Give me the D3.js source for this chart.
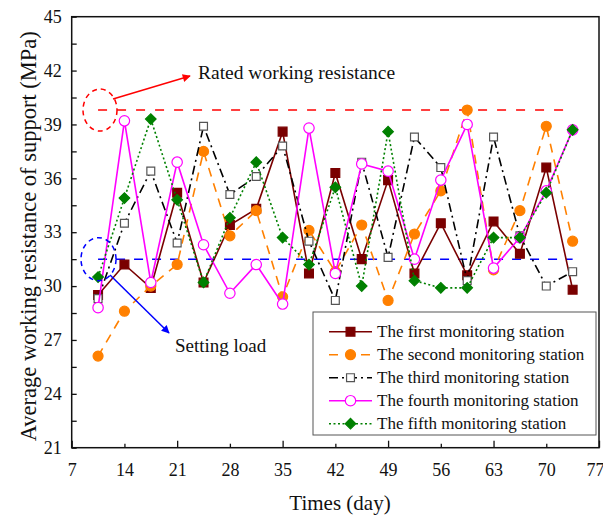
<!DOCTYPE html>
<html>
<head>
<meta charset="utf-8">
<script src="https://cdn.jsdelivr.net/npm/d3@7"></script>
<style>
  body { margin: 0; background: #fff; }
  text { font-family: "Liberation Serif", "Times New Roman", serif; fill: #111; }
</style>
</head>
<body>
<div id="chart"></div>
<script>
// days when the stations were read
const days = [10.5, 14, 17.5, 21, 24.5, 28, 31.5, 35, 38.5, 42, 45.5, 49, 52.5, 56, 59.5, 63, 66.5, 70, 73.5];

// average working resistance (MPa) per station
const station1 = [29.5, 31.2, 29.9, 35.2, 30.2, 33.4, 34.3, 38.6, 30.7, 36.3, 31.5, 35.9, 30.7, 33.5, 30.6, 33.6, 31.8, 36.6, 29.8];
const station2 = [26.1, 28.6, 30.0, 31.2, 37.5, 32.8, 34.2, 29.4, 33.1, 30.8, 33.4, 29.2, 32.9, 35.3, 39.8, 30.9, 34.2, 38.9, 32.5];
const station3 = [29.3, 33.5, 36.4, 32.4, 38.9, 35.1, 36.1, 37.8, 32.5, 29.2, 36.9, 31.6, 38.3, 36.6, 30.3, 38.3, 32.8, 30.0, 30.8];
const station4 = [28.8, 39.2, 30.2, 36.9, 32.3, 29.6, 31.2, 29.0, 38.8, 30.7, 36.8, 36.4, 31.5, 35.9, 39.0, 31.0, 32.7, 35.3, 38.7];
const station5 = [30.5, 34.9, 39.3, 34.8, 30.2, 33.8, 36.9, 32.7, 31.2, 35.5, 30.0, 38.6, 30.3, 29.9, 29.9, 32.7, 32.7, 35.2, 38.7];

const stationNames = [
  "The first monitoring station",
  "The second monitoring station",
  "The third monitoring station",
  "The fourth monitoring station",
  "The fifth monitoring station"
];

const ratedResistance = 39.8;
const settingLoad = 31.5;

const xTicks = [7, 14, 21, 28, 35, 42, 49, 56, 63, 70, 77];
const yTicks = [21, 24, 27, 30, 33, 36, 39, 42, 45];

// look of each series
const styles = [
  { color: "#7a0000", dash: null, width: 1.6, marker: "square", fill: "#7a0000", stroke: "#7a0000", size: 78 },
  { color: "#ff8000", dash: "9,7", width: 1.6, marker: "circle", fill: "#ff8000", stroke: "#ff8000", size: 5 },
  { color: "#000", dash: "9,4,2,4", width: 1.6, marker: "square", fill: "#fff", stroke: "#555", size: 62 },
  { color: "#ff00ff", dash: null, width: 1.6, marker: "circle", fill: "#fff", stroke: "#ff00ff", size: 5.2 },
  { color: "#008000", dash: "2,2.5", width: 1.6, marker: "diamond", fill: "#008000", stroke: "#008000", size: 56 }
];

const series = [station1, station2, station3, station4, station5].map((vals, i) => ({
  name: stationNames[i],
  style: styles[i],
  points: days.map((d, j) => ({ day: d, value: vals[j] }))
}));

// SETUP CHART
const width = 603, height = 518;
const margin = { top: 16.7, right: 4, bottom: 70.3, left: 71.7 };
const graphWidth = width - margin.left - margin.right;
const graphHeight = height - margin.top - margin.bottom;

const svg = d3.select("#chart").append("svg")
  .attr("width", width)
  .attr("height", height);

const graph = svg.append("g")
  .attr("transform", `translate(${margin.left},${margin.top})`);

const x = d3.scaleLinear().domain([7, 77]).range([0, graphWidth]);
const y = d3.scaleLinear().domain([21, 45]).range([graphHeight, 0]);

// axes - ticks point inward
const xAxis = d3.axisBottom(x).tickValues(xTicks).tickSize(-4).tickPadding(16).tickFormat(d3.format("d"));
const yAxis = d3.axisLeft(y)
  .tickValues(d3.range(21, 45.1, 1.5))
  .tickSize(-5)
  .tickPadding(10)
  .tickFormat(d => yTicks.includes(d) ? d : "");

const xAxisGroup = graph.append("g").attr("transform", `translate(0,${graphHeight})`).call(xAxis);
const yAxisGroup = graph.append("g").call(yAxis);

xAxisGroup.selectAll(".tick line")
  .attr("y2", d => ((d - 7) % 14 === 0 ? -7 : -4));

[xAxisGroup, yAxisGroup].forEach(g => {
  g.select(".domain").remove();
  g.selectAll(".tick line").attr("stroke", "#111").attr("stroke-width", 1.3);
  g.selectAll("text").style("font-size", "18px").attr("fill", "#111");
});

// last label sits on the edge, pull it in a bit
xAxisGroup.selectAll(".tick text")
  .filter(d => d === 77)
  .attr("dx", -4);

// frame
graph.append("rect")
  .attr("width", graphWidth)
  .attr("height", graphHeight)
  .attr("fill", "none")
  .attr("stroke", "#111")
  .attr("stroke-width", 1.5);

// reference lines
graph.append("line")
  .attr("x1", x(days[0])).attr("x2", x(days[days.length - 1]))
  .attr("y1", y(ratedResistance)).attr("y2", y(ratedResistance))
  .attr("stroke", "#ff0000").attr("stroke-width", 1.5).attr("stroke-dasharray", "9,10");

graph.append("line")
  .attr("x1", x(days[0])).attr("x2", x(days[days.length - 1]))
  .attr("y1", y(settingLoad)).attr("y2", y(settingLoad))
  .attr("stroke", "#0000ff").attr("stroke-width", 1.5).attr("stroke-dasharray", "9,9");

const line = d3.line().x(d => x(d.day)).y(d => y(d.value));

const drawMarker = (sel, st) => {
  if (st.marker === "circle") {
    sel.append("circle").attr("r", st.size);
  } else if (st.marker === "square") {
    sel.append("path").attr("d", d3.symbol(d3.symbolSquare, st.size)());
  } else {
    sel.append("path").attr("d", d3.symbol(d3.symbolSquare, st.size)()).attr("transform", "rotate(45)");
  }
  sel.selectAll("circle, path")
    .attr("fill", st.fill)
    .attr("stroke", st.stroke)
    .attr("stroke-width", 1.2);
};

series.forEach(s => {
  const st = s.style;
  graph.append("path")
    .datum(s.points)
    .attr("d", line)
    .attr("fill", "none")
    .attr("stroke", st.color)
    .attr("stroke-width", st.width)
    .attr("stroke-dasharray", st.dash);

  graph.append("g").selectAll("g")
    .data(s.points)
    .enter()
    .append("g")
    .attr("transform", d => `translate(${x(d.day)},${y(d.value)})`)
    .each(function() { drawMarker(d3.select(this), st); });
});

// annotations
svg.append("defs").selectAll("marker")
  .data([["arrRed", "#ff0000"], ["arrBlue", "#0000ff"]])
  .enter().append("marker")
  .attr("id", d => d[0])
  .attr("viewBox", "0 0 10 10")
  .attr("refX", 9).attr("refY", 5)
  .attr("markerWidth", 11).attr("markerHeight", 8)
  .attr("markerUnits", "userSpaceOnUse")
  .attr("orient", "auto")
  .append("path")
  .attr("d", "M0,0L10,5L0,10Z")
  .attr("fill", d => d[1]);

svg.append("ellipse")
  .attr("cx", 100).attr("cy", y(ratedResistance) + margin.top)
  .attr("rx", 17).attr("ry", 21)
  .attr("fill", "none").attr("stroke", "#ff0000").attr("stroke-width", 1.5).attr("stroke-dasharray", "5,4");

svg.append("line")
  .attr("x1", 113).attr("y1", 99).attr("x2", 190).attr("y2", 76)
  .attr("stroke", "#ff0000").attr("stroke-width", 1.5)
  .attr("marker-end", "url(#arrRed)");

svg.append("text")
  .attr("x", 198).attr("y", 79)
  .style("font-size", "19.5px")
  .text("Rated working resistance");

svg.append("ellipse")
  .attr("cx", 98.5).attr("cy", y(settingLoad) + margin.top)
  .attr("rx", 17.5).attr("ry", 21.5)
  .attr("fill", "none").attr("stroke", "#0000ff").attr("stroke-width", 1.5).attr("stroke-dasharray", "5,4");

svg.append("line")
  .attr("x1", 110).attr("y1", 275).attr("x2", 169).attr("y2", 333)
  .attr("stroke", "#0000ff").attr("stroke-width", 1.5)
  .attr("marker-end", "url(#arrBlue)");

svg.append("text")
  .attr("x", 175).attr("y", 352)
  .style("font-size", "19px")
  .text("Setting load");

// legend
const legend = svg.append("g").attr("transform", "translate(313,312)");
legend.append("rect")
  .attr("width", 283).attr("height", 123)
  .attr("fill", "#fff").attr("stroke", "#555").attr("stroke-width", 1);

series.forEach((s, i) => {
  const st = s.style;
  const row = legend.append("g").attr("transform", `translate(0,${19.7 + i * 23})`);
  row.append("line")
    .attr("x1", 16).attr("x2", 59)
    .attr("stroke", st.color).attr("stroke-width", st.width)
    .attr("stroke-dasharray", st.dash);
  const m = row.append("g").attr("transform", "translate(37.5,0)");
  drawMarker(m, st);
  row.append("text")
    .attr("x", 64).attr("y", 5.5)
    .style("font-size", "17px")
    .text(s.name);
});

// axis titles
svg.append("text")
  .attr("transform", `translate(28,${margin.top + graphHeight / 2 + 4}) rotate(-90)`)
  .attr("text-anchor", "middle")
  .attr("dy", "0.35em")
  .style("font-size", "22.5px")
  .text("Average working resistance of support (MPa)");

svg.append("text")
  .attr("x", 340).attr("y", 510)
  .attr("text-anchor", "middle")
  .style("font-size", "21px")
  .text("Times (day)");
</script>
</body>
</html>
